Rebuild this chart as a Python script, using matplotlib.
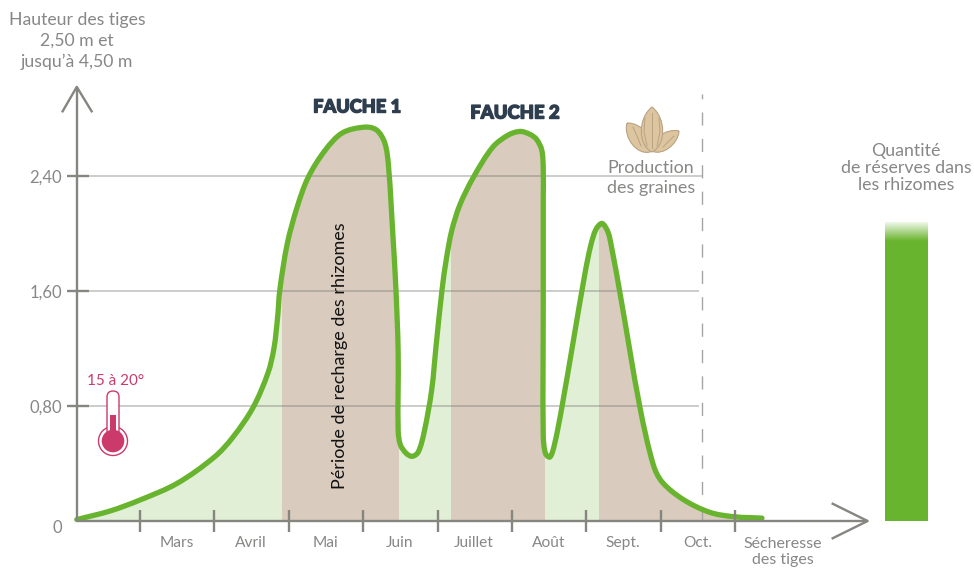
"""
plot.py  -  Hauteur des tiges / reserves dans les rhizomes over the season.
"""

import numpy as np
import matplotlib
matplotlib.use("Agg")
import matplotlib.pyplot as plt
import matplotlib.patheffects as pe
from matplotlib.path import Path
from matplotlib.patches import PathPatch, Circle, Rectangle, FancyBboxPatch

# x = months after the first tick (1 = one month), y = metres
curve_x = [-0.85, -0.4, 0, 0.5, 1, 1.25, 1.52, 1.72, 1.80, 1.85, 1.88, 1.98, 2.11, 2.26, 2.49, 2.72,
           3.02, 3.18, 3.29, 3.34, 3.40, 3.44, 3.47, 3.47, 3.50, 3.58, 3.66, 3.74, 3.82, 3.92,
           3.98, 4.06, 4.12, 4.19, 4.30, 4.48, 4.74, 4.95, 5.11, 5.24, 5.33, 5.40, 5.42, 5.42,
           5.42, 5.42, 5.45, 5.51, 5.57, 5.67, 5.98, 6.06, 6.13, 6.21, 6.29, 6.34, 6.45, 6.72,
           6.90, 7.02, 7.30, 7.66, 7.98, 8.36]
curve_y = [0.01, 0.07, 0.146, 0.262, 0.445, 0.584, 0.79, 1.03, 1.20, 1.42, 1.61, 1.93, 2.18, 2.39,
           2.58, 2.70, 2.74, 2.72, 2.63, 2.47, 1.98, 1.61, 1.17, 0.63, 0.53, 0.47, 0.45, 0.48,
           0.62, 0.91, 1.22, 1.61, 1.83, 2.02, 2.20, 2.39, 2.60, 2.685, 2.71, 2.69, 2.655, 2.58,
           2.45, 2.25, 1.50, 0.60, 0.47, 0.445, 0.53, 0.79, 1.72, 1.92, 2.03, 2.07, 2.01, 1.90,
           1.59, 0.79, 0.39, 0.27, 0.15, 0.06, 0.03, 0.02]

band_edges = [-0.85, 1.91, 3.48, 4.18, 5.44, 6.17, 8.36]
band_kinds = ["grow", "cut", "grow", "cut", "grow", "cut"]

y_ticks = [0.8, 1.6, 2.4]
y_labels = ["0,80", "1,60", "2,40"]
month_ticks = [0, 1, 2, 3, 4, 5, 6, 7, 8]
months = ["Mars", "Avril", "Mai", "Juin", "Juillet", "Août", "Sept.", "Oct."]
reserve_height = 2.08

GREEN = "#69B42E"
BROWN = "#D9CBBE"
LIGHT = "#E0EFD6"
AXIS = "#868580"
TEXT = "#878786"
DARK = "#2E3E4E"
PINK = "#CB3A6B"
SEED = "#DDC69F"
SEED_EDGE = "#B8A283"

plt.rcParams["font.family"] = ["Lato", "DejaVu Sans"]


def smooth_segments(xs, ys, sx, sy):
    # bezier through the read points; tangents are worked out in screen scale
    p = np.column_stack([xs, ys]) * [sx, sy]
    p = np.vstack([p[0], p, p[-1]])
    verts, codes = [p[1]], [Path.MOVETO]
    for i in range(1, len(p) - 2):
        d0 = np.hypot(*(p[i] - p[i - 1])) + 1e-6
        d1 = np.hypot(*(p[i + 1] - p[i])) + 1e-6
        d2 = np.hypot(*(p[i + 2] - p[i + 1])) + 1e-6
        c1 = p[i] + (p[i + 1] - p[i - 1]) * d1 / (d0 + d1) / 3
        c2 = p[i + 1] - (p[i + 2] - p[i]) * d1 / (d1 + d2) / 3
        verts += [c1, c2, p[i + 1]]
        codes += [Path.CURVE4] * 3
    return np.array(verts) / [sx, sy], codes


fig = plt.figure(figsize=(9.74, 5.68), dpi=100)
ax = fig.add_axes([0, 0, 1, 1])
ax.set_xlim(-140 / 74.4, 834 / 74.4)
ax.set_ylim(-47 / 143.75, 521 / 143.75)
ax.axis("off")

# overlay in pixels for labels and the two icons
px = fig.add_axes([0, 0, 1, 1])
px.set_xlim(0, 974)
px.set_ylim(568, 0)
px.axis("off")
px.patch.set_alpha(0)

verts, codes = smooth_segments(curve_x, curve_y, 74.4, 143.75)
curve_path = Path(verts, codes)

# coloured bands, clipped to the area under the curve
area_path = Path(np.vstack([verts, [curve_x[-1], 0], [curve_x[0], 0], verts[0]]),
                 codes + [Path.LINETO, Path.LINETO, Path.CLOSEPOLY])
under = PathPatch(area_path, transform=ax.transData, fc="none", ec="none")
ax.add_patch(under)
for lo, hi, kind in zip(band_edges[:-1], band_edges[1:], band_kinds):
    span = ax.axvspan(lo, hi, 0, 1, color=BROWN if kind == "cut" else LIGHT, lw=0, zorder=1)
    span.set_clip_path(under)

# grid
grid_end = [7.51, 7.51, 7.55]
for val, end in zip(y_ticks, grid_end):
    ax.plot([-0.85, end], [val, val], color="#6f6f6c", alpha=0.45, lw=1.1, zorder=2,
            solid_capstyle="butt")

# harvest limit
ax.plot([7.55, 7.55], [0, 2.97], color="#a5a5a3", lw=1.0, dashes=(9.5, 9.5), zorder=2)

# stems
ax.add_patch(PathPatch(curve_path, fc="none", ec=GREEN, lw=3.8, zorder=3, capstyle="round",
                       joinstyle="round"))

# axes and arrows
ax.plot([-0.85, 9.78], [0, 0], color=AXIS, lw=1.7, zorder=4, solid_capstyle="butt")
ax.plot([-0.85, -0.85], [0, 3.02], color=AXIS, lw=1.7, zorder=4, solid_capstyle="butt")
ax.plot([9.31, 9.78, 9.31], [0.12, 0, -0.12], color=AXIS, lw=1.7, zorder=4)
ax.plot([-1.04, -0.85, -0.65], [2.85, 3.02, 2.85], color=AXIS, lw=1.7, zorder=4)
for m in month_ticks:
    ax.plot([m, m], [-0.077, 0.077], color=AXIS, lw=1.7, zorder=4, solid_capstyle="butt")
for val in y_ticks:
    ax.plot([-0.98, -0.69], [val, val], color=AXIS, lw=1.7, zorder=4, solid_capstyle="butt")

# reserve bar with a faded top
ax.bar(10.30, reserve_height, width=0.578, bottom=0, color=GREEN, lw=0, zorder=3)
fade = np.ones((64, 1, 4))
fade[:, :, 3] = np.linspace(1, 0, 64)[:, None]
ax.imshow(fade, extent=(10.30 - 0.289, 10.30 + 0.289, reserve_height - 0.13, reserve_height + 0.01),
          aspect="auto", zorder=4, origin="upper")
ax.set_xlim(-140 / 74.4, 834 / 74.4)
ax.set_ylim(-47 / 143.75, 521 / 143.75)

# y tick labels
for val, lab in zip(y_ticks, y_labels):
    ax.text(-1.05, val - 0.012, lab, color=TEXT, fontsize=12, ha="right", va="center")
ax.text(-1.05, -0.05, "0", color=TEXT, fontsize=12, ha="right", va="center")

# month labels, centred between ticks
for i, lab in enumerate(months):
    ax.text(i + 0.49, -0.155, lab, color=TEXT, fontsize=11.2, ha="center", va="center")

px.text(783, 552, "Sécheresse\ndes tiges", color=TEXT, fontsize=11.5, ha="center", va="center",
        linespacing=1.24)
px.text(77, 41, "Hauteur des tiges\n2,50 m et\njusqu’à 4,50 m", color=TEXT, fontsize=12.7,
        ha="center", va="center", linespacing=1.39)
px.text(651, 178, "Production\ndes graines", color=TEXT, fontsize=12.9, ha="center", va="center",
        linespacing=1.29)
px.text(906, 168, "Quantité\nde réserves dans\nles rhizomes", color=TEXT, fontsize=12.8, ha="center",
        va="center", linespacing=1.10)
heavy = [pe.withStroke(linewidth=1.0, foreground=DARK)]
px.text(357, 107, "FAUCHE 1", color=DARK, fontsize=13.1, fontweight=900, ha="center", va="center",
        path_effects=heavy)
px.text(515, 113, "FAUCHE 2", color=DARK, fontsize=13.3, fontweight=900, ha="center", va="center",
        path_effects=heavy)
px.text(340, 356, "Période de recharge des rhizomes", color="#111111", fontsize=13, rotation=90,
        ha="center", va="center", zorder=6)
px.text(116, 381, "15 à 20°", color=PINK, fontsize=11, ha="center", va="center")

# thermometer
px.add_patch(Circle((113, 441), 14.5, fc="white", ec=PINK, lw=1.0))
px.add_patch(FancyBboxPatch((107, 391), 12, 46, boxstyle="round,pad=0,rounding_size=6",
                            fc="white", ec=PINK, lw=1.0))
px.add_patch(Rectangle((107.6, 425), 10.8, 16, fc="white", ec="none"))
px.add_patch(Circle((113, 441), 11.3, fc=PINK, ec="none"))
px.add_patch(Rectangle((110, 415), 6, 22, fc=PINK, ec="none"))


def almond(tip, base, width, fold=0.0):
    # lens shape between two points, width in pixels
    tip, base = np.array(tip, float), np.array(base, float)
    d = base - tip
    n = np.array([-d[1], d[0]]) / np.hypot(*d)
    c1 = tip + 0.25 * d + n * width * 0.68
    c2 = tip + 0.85 * d + n * width * (0.68 + fold)
    c3 = tip + 0.85 * d - n * width * (0.68 - fold)
    c4 = tip + 0.25 * d - n * width * 0.68
    verts = [tip, c1, c2, base, c3, c4, tip]
    codes = [Path.MOVETO] + [Path.CURVE4] * 6
    return PathPatch(Path(verts, codes), fc=SEED, ec=SEED_EDGE, lw=0.8)


px.add_patch(almond((627, 123), (650, 152), 18))
px.add_patch(almond((679, 131), (652, 151), 15))
px.add_patch(almond((652, 107), (652, 152), 21))
for xs, ys in [([652, 652], [113, 148]), ([645, 644, 647], [118, 132, 146]),
               ([659, 660, 657], [118, 132, 146]), ([633, 637, 641], [127, 136, 146]),
               ([674, 668, 663], [136, 142, 147])]:
    px.plot(xs, ys, color=SEED_EDGE, lw=0.7)

fig.savefig("out.png", dpi=100)
